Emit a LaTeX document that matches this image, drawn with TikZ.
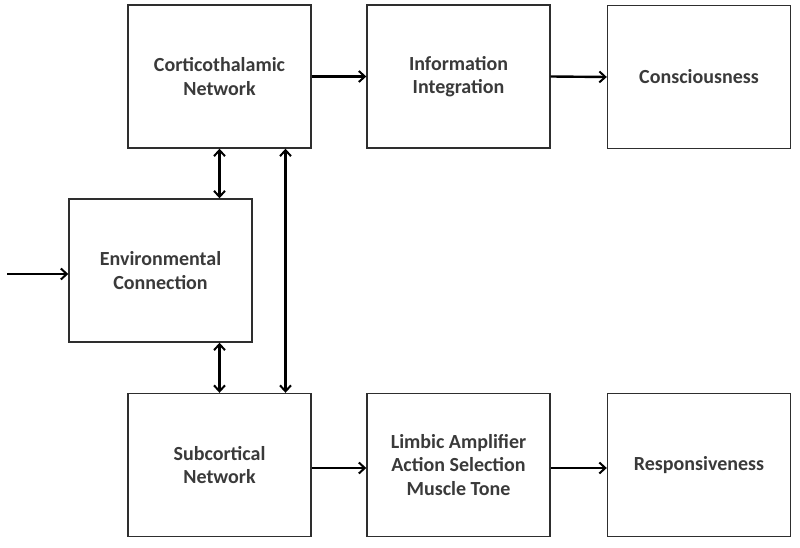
\documentclass[tikz,border=0pt]{standalone}
\usepackage{fontspec}
\setmainfont{Carlito}
\usetikzlibrary{arrows.meta}
\definecolor{txt}{HTML}{3A3A3A}
\definecolor{edge}{HTML}{2E2E2E}
\tikzset{
  blk/.style={draw=edge, line width=1.4pt, fill=white, minimum width=183pt, minimum height=143pt,
    align=center, font=\bfseries\fontsize{20}{23.5}\selectfont, text=txt, inner sep=0pt},
  tip/.tip={Straight Barb[length=6pt,width=11pt,line width=2pt]},
  arr/.style={line width=2.4pt, draw=black, -tip},
  darr/.style={line width=2.4pt, draw=black, tip-tip}
}
\begin{document}
\begin{tikzpicture}[x=1pt,y=-1pt]
\useasboundingbox (0,0) rectangle (800,548);
\node[blk] (ct) at (219.5,76.5) {Corticothalamic\\Network};
\node[blk] (ii) at (458.5,76.5) {Information\\Integration};
\node[blk] (co) at (699,77) {Consciousness};
\node[blk] (env) at (160.5,270.5) {Environmental\\Connection};
\node[blk] (sc) at (219.5,465) {Subcortical\\Network};
\node[blk] (lb) at (458.5,465) {Limbic Amplifier\\Action Selection\\Muscle Tone};
\node[blk] (rs) at (699,465) {Responsiveness};
\coordinate (in) at (7,274);
\draw[arr] (ct.east) -- (ii.west);
\draw[arr] (ii.east) -- (co.west);
\draw[arr] ([yshift=-3pt]sc.east) -- ([yshift=-3pt]lb.west);
\draw[arr] ([yshift=-3pt]lb.east) -- ([yshift=-3pt]rs.west);
\draw[arr] (in) -- (in -| env.west);
\draw[darr] (ct.south) -- (ct.south |- env.north);
\draw[darr] (env.south -| sc.north) -- (sc.north);
\draw[darr] ([xshift=66pt]ct.south) -- ([xshift=66pt]sc.north);
\end{tikzpicture}
\end{document}
